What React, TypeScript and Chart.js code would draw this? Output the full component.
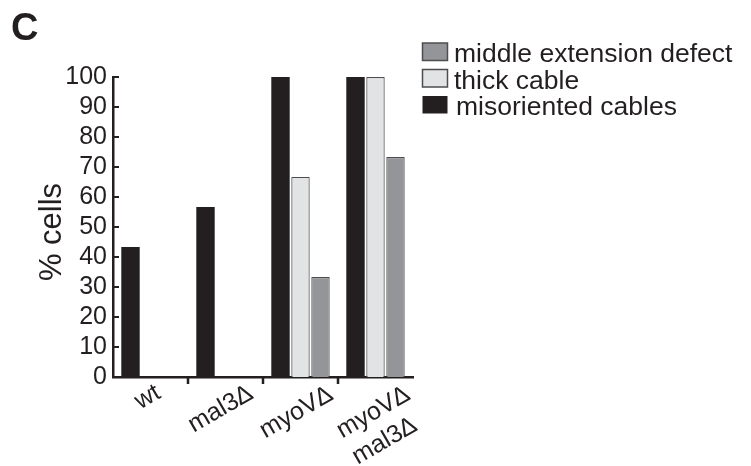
import React, { useEffect, useRef } from "react";
import { Chart, registerables } from "chart.js";

Chart.register(...registerables);

const categories: string[][] = [["wt"], ["mal3\u2206"], ["myoV\u2206"], ["myoV\u2206", "mal3\u2206"]];
const misorientedCables = [43.3, 56.7, 100, 100];
const thickCable = [0, 0, 66.7, 100];
const middleExtensionDefect = [0, 0, 33.3, 73.3];
const seriesNames = ["misoriented cables", "thick cable", "middle extension defect"];
const yMin = 0;
const yMax = 100;
const yStep = 10;
const yTitle = "% cells";
const panelLabel = "C";

const FONT = '"Liberation Sans", Arial, Helvetica, sans-serif';
const INK = "#231f20";
const BLACK = "#231f20";
const LIGHT = "#e2e3e5";
const MID = "#939598";
const EDGE = "#4d4d4f";

// label anchor offsets (relative to category centre and chart bottom) for each line of x labels
const labelAnchors: number[][][] = [
  [[8, 14]],
  [[25, 15]],
  [[30, 16]],
  [[32, 16], [39, 47]],
];

const decorPlugin = {
  id: "decor",
  afterDraw(chart: any) {
    const ctx = chart.ctx as CanvasRenderingContext2D;
    const area = chart.chartArea;
    const x = chart.scales.x;
    const y = chart.scales.y;
    ctx.save();
    ctx.strokeStyle = INK;
    ctx.fillStyle = INK;
    // inward y ticks
    ctx.lineWidth = 2;
    y.ticks.forEach((t: any) => {
      const py = Math.round(y.getPixelForValue(t.value));
      ctx.beginPath();
      ctx.moveTo(area.left, py);
      ctx.lineTo(area.left + 6, py);
      ctx.stroke();
    });
    // x ticks between categories
    const n = chart.data.labels.length;
    ctx.lineWidth = 2.5;
    for (let i = 0; i < n - 1; i++) {
      const px = Math.round((x.getPixelForValue(i) + x.getPixelForValue(i + 1)) / 2);
      ctx.beginPath();
      ctx.moveTo(px, area.bottom);
      ctx.lineTo(px, area.bottom + 7);
      ctx.stroke();
    }
    // x labels, rotated
    ctx.font = `25px ${FONT}`;
    ctx.textAlign = "right";
    ctx.textBaseline = "middle";
    (chart.data.labels as string[][]).forEach((lab, i) => {
      const cx = x.getPixelForValue(i);
      lab.forEach((line, j) => {
        const a = labelAnchors[i][j];
        ctx.save();
        ctx.translate(cx + a[0], area.bottom + a[1]);
        ctx.rotate(-Math.PI / 6);
        ctx.fillText(line, 0, 0);
        ctx.restore();
      });
    });
    // y title
    ctx.save();
    ctx.font = `31px ${FONT}`;
    ctx.textAlign = "center";
    ctx.textBaseline = "middle";
    ctx.translate(52, (area.top + area.bottom) / 2 + 5);
    ctx.rotate(-Math.PI / 2);
    ctx.fillText(yTitle, 0, 0);
    ctx.restore();
    // panel label
    ctx.font = `bold 38px ${FONT}`;
    ctx.textAlign = "left";
    ctx.textBaseline = "alphabetic";
    ctx.fillText(panelLabel, 11, 40);
    // legend (reverse order)
    const ds = chart.data.datasets;
    const baselines = [62, 88.5, 115];
    ctx.font = `26.5px ${FONT}`;
    for (let k = 0; k < ds.length; k++) {
      const d = ds[ds.length - 1 - k];
      const bl = baselines[k];
      const bx = 422.5, by = bl - 19, bw = 25, bh = 17.5;
      ctx.fillStyle = d.backgroundColor;
      ctx.fillRect(bx, by, bw, bh);
      if (d.borderWidth > 0) {
        ctx.strokeStyle = d.borderColor;
        ctx.lineWidth = 1.5;
        ctx.strokeRect(bx, by, bw, bh);
      }
      ctx.fillStyle = INK;
      ctx.fillText(d.label, k === 2 ? 456 : 454, bl);
    }
    ctx.restore();
  },
};

export default function App() {
  const ref = useRef<HTMLCanvasElement>(null);
  useEffect(() => {
    if (!ref.current) return;
    const chart = new Chart(ref.current, {
      type: "bar",
      data: {
        labels: categories as any,
        datasets: [
          {
            label: seriesNames[0],
            data: misorientedCables,
            backgroundColor: BLACK,
            borderColor: BLACK,
            borderWidth: 0,
          },
          {
            label: seriesNames[1],
            data: thickCable,
            backgroundColor: LIGHT,
            borderColor: EDGE,
            borderWidth: 1.2,
          },
          {
            label: seriesNames[2],
            data: middleExtensionDefect,
            backgroundColor: MID,
            borderColor: EDGE,
            borderWidth: 1.2,
          },
        ],
      },
      options: {
        responsive: false,
        animation: false,
        maintainAspectRatio: false,
        layout: { padding: { left: 0, top: 77, right: 338, bottom: 0 } },
        datasets: { bar: { categoryPercentage: 0.8, barPercentage: 0.92, borderSkipped: "start" } },
        plugins: { legend: { display: false }, tooltip: { enabled: false }, title: { display: false } },
        scales: {
          x: {
            type: "category",
            grid: { display: false, drawTicks: false },
            border: { display: true, color: INK, width: 2.5 },
            ticks: { display: false },
            afterFit: (s: any) => {
              s.height = 466 - 377;
            },
          },
          y: {
            min: yMin,
            max: yMax,
            grid: { display: false, drawTicks: false },
            border: { display: true, color: INK, width: 2.5 },
            ticks: {
              stepSize: yStep,
              autoSkip: false,
              padding: 6,
              color: INK,
              font: { family: FONT, size: 25 },
            },
            afterFit: (s: any) => {
              s.width = 113;
            },
          },
        },
      },
      plugins: [decorPlugin],
    } as any);
    return () => chart.destroy();
  }, []);
  return (
    <div style={{ position: "absolute", left: 0, top: 0, width: 751, height: 466, background: "#fff" }}>
      <canvas ref={ref} width={751} height={466} />
    </div>
  );
}
